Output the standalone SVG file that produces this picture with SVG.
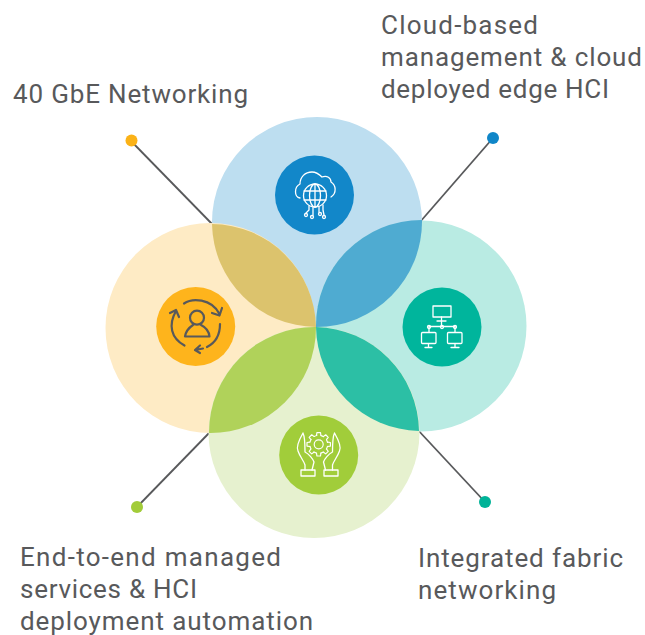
<svg xmlns="http://www.w3.org/2000/svg" width="645" height="635" viewBox="0 0 645 635">
<style>
text{font-family:"Roboto","Noto Sans",sans-serif;font-size:26px;fill:#58595b}
.ln{stroke:#58595b;stroke-width:1.8;fill:none}
.w{fill:none;stroke:#fff;stroke-width:1.3;stroke-linecap:round;stroke-linejoin:round}
.d{fill:none;stroke:#58595b;stroke-width:2.2;stroke-linecap:round;stroke-linejoin:round}
</style>
<defs><path id="tooth" class="w" d="M10 -2.400L13 -2V2L10 2.400"/></defs>
<rect width="645" height="635" fill="#fff"/>
<g id="connectors">
<path class="ln" d="M131 141L214 226"/>
<path class="ln" d="M493 138L420 222"/>
<path class="ln" d="M137 507L211 431"/>
<path class="ln" d="M485 502L417 429"/>
</g>
<g id="dots">
<circle cx="131.500" cy="140.500" r="6" fill="#fbb217"/>
<circle cx="493" cy="138" r="6" fill="#0f86c8"/>
<circle cx="137" cy="507" r="6" fill="#a2cc39"/>
<circle cx="485" cy="502" r="6" fill="#00b398"/>
</g>
<g id="node-top">
<circle cx="317" cy="222" r="105" fill="#bddef0"/>
</g>
<g id="node-left">
<circle cx="210.500" cy="328" r="105" fill="#feebc5"/>
</g>
<g id="node-right">
<circle cx="421" cy="326" r="105.500" fill="#b9ebe3"/>
</g>
<g id="node-bottom">
<circle cx="314" cy="432.500" r="105.500" fill="#e6f1cf"/>
</g>
<g id="overlaps">
<path d="M212 224A105 105 0 0 0 316 327A105 105 0 0 0 212 224Z" fill="#dcc36d"/>
<path d="M422 220A105.500 105.500 0 0 0 316 327A105.500 105.500 0 0 0 422 220Z" fill="#4fabd1"/>
<path d="M316 327A105.500 105.500 0 0 0 209 433A105.500 105.500 0 0 0 316 327Z" fill="#b0d25a"/>
<path d="M316 327A105.500 105.500 0 0 1 419 431A105.500 105.500 0 0 1 316 327Z" fill="#2cbfa5"/>
</g>
<g id="icon-cloud">
<circle cx="314.500" cy="195" r="39.500" fill="#1287c9"/>
<path class="w" d="M300 198C294 197 294 187 300 184C300 177 305 172 312 172C317 172 320 175 322 177C327 175 331 178 331 182C336 185 337 193 331 197"/>
<circle class="w" cx="315" cy="195.500" r="11.500"/>
<ellipse class="w" cx="315" cy="195.500" rx="5.500" ry="11.500"/>
<path class="w" d="M315 184V207M304 191H326M304 200H326"/>
<path class="w" d="M309 206V210L306 213M313 207V215M319 207V212M323 205V210L324 215"/>
<circle class="w" cx="306" cy="215" r="1.500"/><circle class="w" cx="312" cy="217" r="1.500"/><circle class="w" cx="320" cy="214" r="1.500"/><circle class="w" cx="324" cy="217" r="1.500"/>
</g>
<g id="icon-network">
<circle cx="442" cy="327" r="39.500" fill="#00b59c"/>
<rect class="w" x="433" y="306" width="18" height="11"/>
<path class="w" d="M441.500 317V326M437 321H446M429 326.500H455M429 326.500V332M455 326.500V332"/>
<circle class="w" cx="429" cy="327" r="1.500"/><circle class="w" cx="442" cy="327" r="1.500"/><circle class="w" cx="455" cy="327" r="1.500"/>
<rect class="w" x="421.500" y="332.500" width="14.500" height="11" rx="1"/>
<rect class="w" x="447.500" y="332.500" width="14.500" height="11" rx="1"/>
<path class="w" d="M428.500 344V347M425 347.500H432M455 344V347M451 347.500H459"/>
</g>
<g id="icon-person">
<circle cx="195.700" cy="326.500" r="39.500" fill="#feb41c"/>
<circle class="d" cx="197" cy="317.700" r="7"/>
<path class="d" d="M185 336.500C186 330 190 327 193 325M201 325C205 327 209 331 209.500 336.500H185"/>
<path class="d" d="M184 303.500C192 298 211 298 219.500 314M222 308L219.500 315.500L212 313"/>
<path class="d" d="M220 324C220 335 215 343 207 347M203 348.500L195 350M200 345.500L195 350L200 353"/>
<path class="d" d="M184.500 345.500C171 338 168 325 176 311M170 313L176 310L179 317"/>
</g>
<g id="icon-hands">
<circle cx="318.700" cy="455" r="39.500" fill="#a1cd3a"/>
<path class="w" d="M303 433C299 440 296 447 298 451C300 457 304 461 305 465V470M303 433C305 437 305 445 305 452C309 454 313 459 314 462L312 470"/>
<path class="w" d="M334.500 433C338.500 440 341.500 447 339.500 451C337.500 457 333.500 461 332.500 465V470M334.500 433C332.500 437 332.500 445 332.500 452C328.500 454 324.500 459 323.500 462L325.500 470"/>
<rect class="w" x="301" y="470" width="14" height="6"/>
<rect class="w" x="324" y="470" width="14" height="6"/>
<g transform="translate(318.700 444.300) scale(.9)">
<circle class="w" r="5"/>
<circle class="w" r="10" stroke-dasharray="3.050 4.800" stroke-dashoffset="5.450"/>
<use href="#tooth"/><use href="#tooth" transform="rotate(45)"/><use href="#tooth" transform="rotate(90)"/><use href="#tooth" transform="rotate(135)"/><use href="#tooth" transform="rotate(180)"/><use href="#tooth" transform="rotate(225)"/><use href="#tooth" transform="rotate(270)"/><use href="#tooth" transform="rotate(315)"/>
</g>
</g>
<g id="labels">
<text x="13" y="103" textLength="235">40 GbE Networking</text>
<text x="381" y="34" textLength="157">Cloud-based</text>
<text x="381" y="66" textLength="261">management &amp; cloud</text>
<text x="381" y="98" textLength="228">deployed edge HCI</text>
<text x="20" y="566" textLength="261">End-to-end managed</text>
<text x="20" y="598" textLength="177">services &amp; HCI</text>
<text x="20" y="630" textLength="293">deployment automation</text>
<text x="418" y="567" textLength="205">Integrated fabric</text>
<text x="418" y="599" textLength="138">networking</text>
</g>
</svg>
